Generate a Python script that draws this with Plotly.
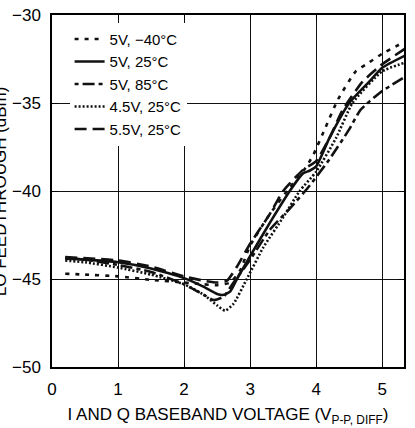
import plotly.graph_objects as go

# 5V, -40°C
x_m40 = [0.2, 0.5, 1.0, 1.5, 2.0, 2.3, 2.5, 2.7, 2.85, 3.0, 3.3, 3.6, 3.8, 3.95, 4.14, 4.33, 4.6, 4.8, 5.0, 5.35]
y_m40 = [-44.7, -44.75, -44.85, -45.05, -45.2, -45.3, -45.35, -45.2, -44.5, -43.1, -41.3, -39.8, -38.9, -38.0, -36.4, -34.8, -33.2, -32.7, -32.2, -31.5]

# 5V, 25°C
x_25 = [0.2, 0.5, 1.0, 1.5, 2.0, 2.3, 2.5, 2.6, 2.7, 2.8, 3.0, 3.3, 3.6, 3.8, 3.9, 4.0, 4.2, 4.5, 4.8, 5.0, 5.35]
y_25 = [-43.85, -43.9, -44.05, -44.4, -44.95, -45.45, -45.85, -45.9, -45.7, -45.0, -43.7, -41.8, -40.0, -39.0, -38.85, -38.6, -37.0, -35.0, -33.8, -33.0, -32.3]

# 5V, 85°C
x_85 = [0.2, 0.5, 1.0, 1.5, 2.0, 2.3, 2.45, 2.6, 2.75, 3.0, 3.3, 3.6, 3.9, 4.2, 4.5, 4.67, 4.97, 5.35]
y_85 = [-43.8, -43.9, -44.2, -44.6, -45.3, -45.9, -46.2, -46.0, -45.2, -43.9, -42.2, -41.0, -39.7, -38.2, -36.5, -35.4, -34.4, -33.5]

# 4.5V, 25°C
x_45 = [0.2, 0.5, 1.0, 1.5, 2.0, 2.3, 2.5, 2.62, 2.75, 2.95, 3.2, 3.5, 3.75, 4.0, 4.3, 4.55, 5.0, 5.35]
y_45 = [-43.95, -44.05, -44.35, -44.75, -45.3, -45.9, -46.5, -46.8, -46.4, -45.0, -43.2, -41.5, -40.0, -38.9, -37.0, -35.0, -33.2, -32.7]

# 5.5V, 25°C
x_55 = [0.2, 1.0, 1.5, 2.0, 2.3, 2.5, 2.65, 2.8, 3.0, 3.3, 3.5, 3.8, 4.0, 4.2, 4.4, 4.7, 5.0, 5.35]
y_55 = [-43.75, -43.95, -44.3, -44.85, -45.1, -45.2, -45.1, -44.3, -43.0, -41.3, -40.0, -38.8, -38.3, -37.0, -35.4, -33.8, -32.8, -31.9]

x_ticks = [0, 1, 2, 3, 4, 5]
y_ticks = [-50, -45, -40, -35, -30]

FONT = "Liberation Sans, Arial"

fig = go.Figure()
series = [
    ("5V, \u221240\u00b0C", x_m40, y_m40, "4px,6px"),
    ("5V, 25\u00b0C", x_25, y_25, "solid"),
    ("5V, 85\u00b0C", x_85, y_85, "4px,4px,12px,4px"),
    ("4.5V, 25\u00b0C", x_45, y_45, "2px,2px"),
    ("5.5V, 25\u00b0C", x_55, y_55, "12px,6px"),
]
for name, xs, ys, dash in series:
    fig.add_trace(go.Scatter(x=xs, y=ys, mode="lines", name=name,
                             line=dict(color="#111111", width=2.6, dash=dash,
                                       shape="spline", smoothing=0.5)))

axis_common = dict(showgrid=True, gridcolor="#111111", gridwidth=1, automargin=False,
                   showline=True, linecolor="black", linewidth=1.5, mirror="ticks",
                   ticks="inside", ticklen=5, tickcolor="black", zeroline=False,
                   tickfont=dict(family=FONT, size=17, color="black"))

fig.update_layout(
    width=415, height=428,
    margin=dict(l=52, r=11, t=15, b=61),
    paper_bgcolor="white", plot_bgcolor="white",
    font=dict(family=FONT, size=17, color="black"),
    xaxis=dict(range=[0, 5.33], tickvals=x_ticks, ticklabelstandoff=6, **axis_common,
               title=dict(text="I AND Q BASEBAND VOLTAGE (V<sub>P-P, DIFF</sub>)",
                          font=dict(family=FONT, size=17), standoff=10)),
    yaxis=dict(range=[-50, -30], tickvals=y_ticks, ticklabelstandoff=6, **axis_common),
    legend=dict(x=0.05, y=0.978, xanchor="left", yanchor="top",
                bgcolor="white", borderwidth=0,
                font=dict(family=FONT, size=15), tracegroupgap=0),
    showlegend=True,
)
fig.add_annotation(text="LO FEEDTHROUGH (dBm)", xref="paper", yref="paper",
                   x=-0.147, y=0.5, xanchor="center", yanchor="middle",
                   textangle=-90, showarrow=False,
                   font=dict(family=FONT, size=17, color="black"))

fig.write_html("out.html", config={"displayModeBar": False},
               post_script="document.body.style.margin='0';")
